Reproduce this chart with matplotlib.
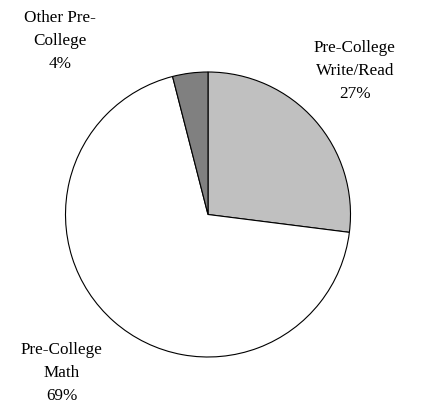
import matplotlib
matplotlib.use("Agg")
import matplotlib.pyplot as plt

labels = ["Pre-College\nWrite/Read", "Pre-College\nMath", "Other Pre-\nCollege"]
values = [27, 69, 4]
colors = ["#c0c0c0", "#ffffff", "#808080"]
pcts = ["27%", "69%", "4%"]

W, H = 428, 413
fig = plt.figure(figsize=(W / 100, H / 100), dpi=100)
ax = fig.add_axes([0, 0, 1, 1])

cx, cy, r = 208, H - 214.5, 142.5
ax.pie(values, colors=colors, startangle=90, counterclock=False,
       center=(cx, cy), radius=r, frame=True,
       wedgeprops=dict(edgecolor="black", linewidth=0.8))
ax.set_xlim(0, W)
ax.set_ylim(0, H)
ax.set_aspect("equal")
ax.axis("off")

label_pos = [(355, H - 71), (62, H - 373), (60, H - 41)]
for lab, p, (x, y) in zip(labels, pcts, label_pos):
    ax.text(x, y, f"{lab}\n{p}", ha="center", va="center",
            fontsize=12.3, family="Liberation Serif", linespacing=1.62)

fig.savefig("out.png", dpi=100)
